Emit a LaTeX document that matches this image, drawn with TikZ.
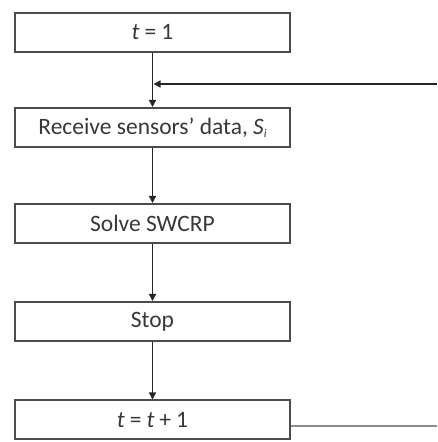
\documentclass[tikz,border=0pt]{standalone}
\usepackage{fontspec}
\setmainfont{Carlito}
\usetikzlibrary{arrows.meta}
\newcommand{\eqsp}{\hspace{5pt}}
\begin{document}
\begin{tikzpicture}[x=1pt,y=1pt,
  stepbox/.style={draw=black!70,line width=2pt,minimum width=275pt,minimum height=39pt,inner sep=0pt,font=\fontsize{23.5}{26}\selectfont,text=black!78},
  conn/.style={line width=1.4pt,black!85,-{Triangle[length=7pt,width=7pt]}},
  fb/.style={line width=1.1pt,black!45}]
\useasboundingbox (0,0) rectangle (437,442);
\node[stepbox] (b1) at (152.5,409.5) {\textit{t}\eqsp=\eqsp1};
\node[stepbox] (b2) at (152.5,314.5) {Receive sensors’ data, \textit{S}\raisebox{-0.3ex}{\fontsize{12}{14}\selectfont\textit{i}}};
\node[stepbox] (b3) at (152.5,218.5) {Solve SWCRP};
\node[stepbox] (b4) at (152.5,120.5) {Stop};
\node[stepbox] (b5) at (152.5,22) {\textit{t}\eqsp=\eqsp\textit{t}\eqsp+\eqsp1};
\coordinate (j) at (152.5,358);
\coordinate (r) at (437,358);
\coordinate (r2) at (437,16);
\draw[line width=1.4pt,black!85] (b1.south) -- (j);
\draw[conn] (j) -- (b2.north);
\draw[conn] (r) -- ([xshift=1pt]j);
\draw[conn] (b2.south) -- (b3.north);
\draw[conn] (b3.south) -- (b4.north);
\draw[conn] (b4.south) -- (b5.north);
\draw[fb] (b5.east |- r2) -- (r2);
\end{tikzpicture}
\end{document}
